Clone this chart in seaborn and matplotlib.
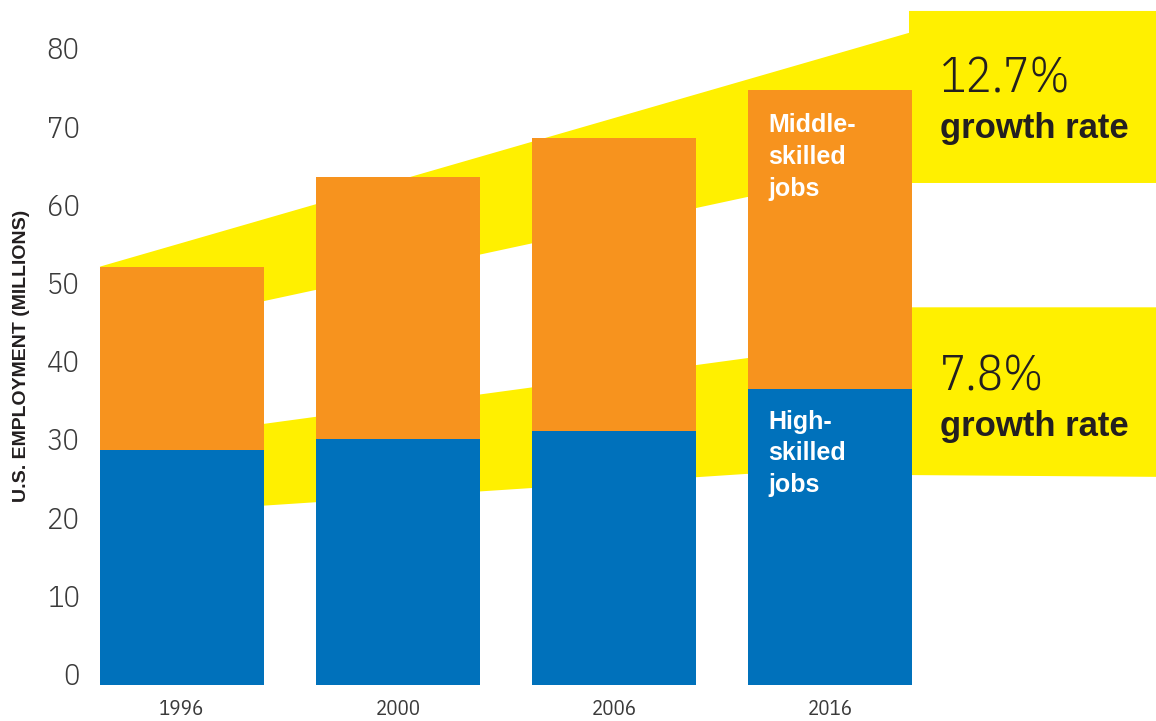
import matplotlib
matplotlib.use("Agg")
import matplotlib.pyplot as plt
import pandas as pd
import seaborn as sns

# ---------------------------------------------------------------------
# Data (millions of U.S. jobs)
# ---------------------------------------------------------------------
years = ["1996", "2000", "2006", "2016"]
high_skilled = [30.1, 31.4, 32.5, 37.8]
middle_skilled = [23.4, 33.6, 37.5, 38.3]
y_ticks = [0, 10, 20, 30, 40, 50, 60, 70, 80]

growth_labels = ["12.7%", "7.8%"]
bar_labels = ["Middle-\nskilled\njobs", "High-\nskilled\njobs"]

# yellow "growth" ribbons behind the bars, (category position, value)
upper_band = [(3.367, 83.4), (3.367, 86.2), (4.6, 86.2), (4.6, 64.2),
              (3.367, 64.2), (2.617, 62.4), (0.380, 49.1), (0.0, 46.9)]
lower_band = [(0.0, 31.97), (2.617, 41.8), (3.0, 43.3), (3.0, 48.3),
              (4.6, 48.3), (4.6, 26.6), (2.617, 27.0), (0.0, 22.25)]

BLUE = "#0071BB"
ORANGE = "#F7931E"
YELLOW = "#FFF000"
TEXT = "#3a3a3a"
DARK = "#231F20"
BAR_W = 0.761

sns.set_style("white")
plt.rcParams["font.family"] = ["Liberation Sans", "DejaVu Sans"]
COND = ["IBM Plex Sans Condensed", "Roboto Condensed", "Barlow Semi Condensed",
        "Liberation Sans", "DejaVu Sans"]

df = pd.DataFrame({
    "year": years,
    "high": high_skilled,
    "total": [h + m for h, m in zip(high_skilled, middle_skilled)],
})

W, H = 1156, 721
fig = plt.figure(figsize=(W / 100, H / 100), dpi=100)
ax = fig.add_axes([95 / W, 36 / H, 1 - 95 / W, 685 / H])

# ribbons first so the bars sit on top
first_corner = [(-BAR_W / 2, df["total"][0])]
ax.fill(*zip(*(first_corner + upper_band)), color=YELLOW, lw=0, zorder=0)
ax.fill(*zip(*lower_band), color=YELLOW, lw=0, zorder=0)

sns.barplot(data=df, x="year", y="total", color=ORANGE, saturation=1,
            width=BAR_W, linewidth=0, ax=ax, zorder=2)
sns.barplot(data=df, x="year", y="high", color=BLUE, saturation=1,
            width=BAR_W, linewidth=0, ax=ax, zorder=3)

ax.set_xlim(-0.403, 4.511)
ax.set_ylim(0, 87.6)
ax.set_yticks(y_ticks)
ax.set_yticklabels([str(t) for t in y_ticks], family=COND, fontweight=300,
                   fontsize=22, color=TEXT)
for lab in ax.get_yticklabels():
    lab.set_verticalalignment("baseline")
ax.set_xticks(range(len(years)))
ax.set_xticklabels(years, family=COND, fontsize=15, color=TEXT)
ax.tick_params(axis="y", length=0, pad=11)
ax.tick_params(axis="x", length=0, pad=11)
sns.despine(ax=ax, left=True, bottom=True)
ax.set_xlabel("")
ax.set_ylabel("U.S. EMPLOYMENT (MILLIONS)", fontsize=14, fontweight="bold", color=DARK)
ax.yaxis.set_label_coords(-0.061, 0.48)

# labels inside the 2016 bar
ax.text(2.714, 73.1, bar_labels[0], color="white", fontsize=18, fontweight="bold",
        va="top", ha="left", linespacing=1.4, zorder=4)
ax.text(2.714, 35.2, bar_labels[1], color="white", fontsize=18, fontweight="bold",
        va="top", ha="left", linespacing=1.4, zorder=4)

# growth-rate callouts in the ribbons
for lab, y_pct, y_txt in [(growth_labels[0], 75.8, 70.0), (growth_labels[1], 37.7, 31.9)]:
    ax.text(3.511, y_pct, lab, family=COND, fontweight=300, fontsize=35, color=DARK,
            va="baseline", ha="left", zorder=4)
    ax.text(3.511, y_txt, "growth rate", fontsize=25, fontweight="bold", color=DARK,
            va="baseline", ha="left", zorder=4)

fig.savefig("out.png", dpi=100)
